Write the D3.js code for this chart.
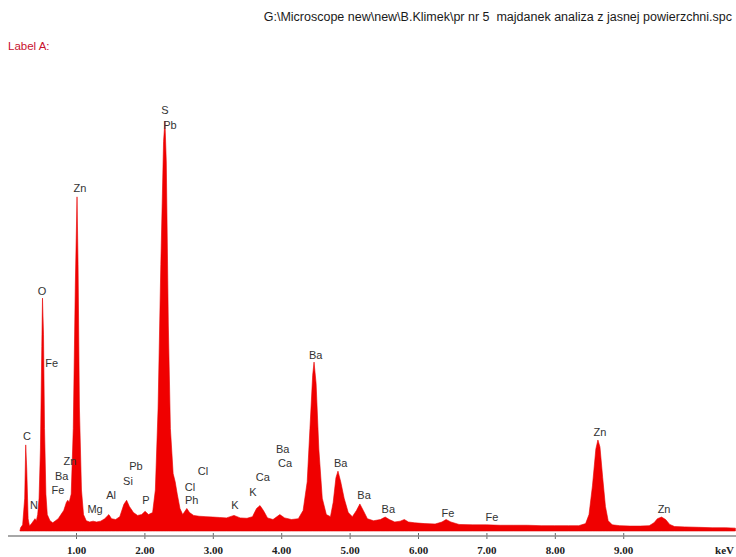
<!DOCTYPE html>
<html>
<head>
<meta charset="utf-8">
<script src="https://cdnjs.cloudflare.com/ajax/libs/d3/7.8.5/d3.min.js"></script>
<style>
  body { margin: 0; background: #fff; }
  svg { display: block; }
</style>
</head>
<body>
<div id="chart-area"></div>
<script>
// SPECTRUM (energy in keV, counts)
var energy = [0.18, 0.19, 0.22, 0.25, 0.265, 0.28, 0.30, 0.32, 0.35, 0.38, 0.40, 0.42, 0.44, 0.46, 0.48, 0.50,
	0.51, 0.525, 0.54, 0.56, 0.58, 0.62, 0.66, 0.70, 0.74, 0.78, 0.82, 0.86, 0.88, 0.90, 0.93, 0.96, 0.99,
	1.015, 1.03, 1.05, 1.08, 1.11, 1.15, 1.20, 1.25, 1.30, 1.36, 1.42, 1.48, 1.52, 1.58, 1.64, 1.70, 1.74,
	1.78, 1.84, 1.90, 1.96, 2.01, 2.06, 2.12, 2.16, 2.20, 2.24, 2.28, 2.30, 2.32, 2.35, 2.38, 2.42, 2.45,
	2.48, 2.52, 2.56, 2.62, 2.66, 2.72, 2.80, 2.90, 3.00, 3.10, 3.20, 3.31, 3.40, 3.50, 3.58, 3.64, 3.69,
	3.74, 3.80, 3.88, 3.98, 4.05, 4.15, 4.25, 4.32, 4.38, 4.42, 4.46, 4.48, 4.51, 4.55, 4.60, 4.66, 4.72,
	4.76, 4.80, 4.83, 4.87, 4.92, 4.98, 5.04, 5.10, 5.15, 5.20, 5.26, 5.35, 5.45, 5.52, 5.58, 5.66, 5.74,
	5.80, 5.86, 5.95, 6.10, 6.25, 6.35, 6.41, 6.48, 6.60, 6.80, 7.00, 7.20, 7.40, 7.60, 7.80, 8.00, 8.20,
	8.35, 8.45, 8.50, 8.55, 8.60, 8.63, 8.66, 8.70, 8.74, 8.78, 8.84, 8.95, 9.10, 9.25, 9.38, 9.45, 9.50,
	9.56, 9.62, 9.68, 9.75, 9.90, 10.10, 10.30, 10.50, 10.64];

var counts = [0, 8, 15, 80, 210, 150, 30, 12, 18, 25, 30, 25, 40, 80, 200, 450,
	568, 480, 250, 90, 40, 25, 20, 25, 30, 40, 50, 70, 75, 70, 90, 250, 600,
	815, 650, 300, 100, 40, 25, 22, 24, 22, 24, 30, 40, 30, 28, 35, 65, 75,
	60, 45, 38, 40, 48, 40, 45, 100, 300, 650, 950, 1000, 900, 500, 250, 140, 120,
	90, 55, 40, 55, 45, 38, 36, 35, 34, 33, 32, 38, 32, 31, 35, 55, 62,
	50, 32, 28, 40, 32, 28, 30, 50, 120, 250, 380, 412, 360, 200, 80, 40, 35,
	70, 130, 146, 120, 80, 45, 35, 50, 66, 50, 30, 25, 28, 34, 28, 22, 24,
	28, 22, 20, 18, 17, 22, 28, 22, 16, 15, 15, 14, 14, 14, 13, 13, 13,
	13, 18, 40, 110, 200, 222, 205, 130, 60, 25, 15, 13, 12, 12, 13, 20, 30,
	34, 28, 16, 11, 10, 9, 8, 8, 7];

// PEAK LABELS
var peakNames = ["S", "Pb", "Zn", "O", "Fe", "C", "N", "Zn", "Ba", "Fe", "Mg", "Al", "Si", "Pb", "P",
	"Cl", "Cl", "Ph", "K", "K", "Ca", "Ba", "Ca", "Ba", "Ba", "Ba", "Ba", "Fe", "Fe", "Zn", "Zn"];
var peakKeV = [2.301, 2.374, 1.058, 0.503, 0.645, 0.284, 0.386, 0.912, 0.791, 0.737, 1.278, 1.512, 1.760, 1.877, 2.023,
	2.857, 2.667, 2.691, 3.325, 3.588, 3.730, 4.022, 4.056, 4.504, 4.870, 5.211, 5.566, 6.439, 7.082, 8.661, 9.597];
var peakLevel = [1026, 991, 837, 586, 410, 232, 63, 170, 135, 100, 54, 88, 122, 159, 76,
	145, 107, 76, 63, 95, 132, 200, 166, 429, 166, 88, 54, 44, 34, 242, 54];

var tickValues = [1, 2, 3, 4, 5, 6, 7, 8, 9];

var fileTitle = "G:\\Microscope new\\new\\B.Klimek\\pr nr 5  majdanek analiza z jasnej powierzchni.spc";

var width = 736, height = 557;

var svg = d3.select("#chart-area")
	.append("svg")
	.attr("width", width)
	.attr("height", height);

// SCALES
var x = d3.scaleLinear()
	.domain([0, 10.64])
	.range([7.6, 735.4]);

var y = d3.scaleLinear()
	.domain([0, 1000])
	.range([531, 121]);

// HEADER
svg.append("text")
	.attr("x", 732)
	.attr("y", 21)
	.attr("text-anchor", "end")
	.attr("font-family", "Liberation Sans, Arial, sans-serif")
	.attr("font-size", "12.5px")
	.attr("fill", "#1a1a1a")
	.attr("xml:space", "preserve")
	.style("white-space", "pre")
	.text(fileTitle);

svg.append("text")
	.attr("x", 8)
	.attr("y", 50)
	.attr("font-family", "Liberation Sans, Arial, sans-serif")
	.attr("font-size", "11.5px")
	.attr("fill", "#c8102e")
	.text("Label A:");

// SPECTRUM
var spectrum = energy.map(function (e, i) { return { e: e, c: counts[i] }; });

var area = d3.area()
	.x(function (d) { return x(d.e); })
	.y0(y(0))
	.y1(function (d) { return y(d.c); });

svg.append("path")
	.datum(spectrum)
	.attr("fill", "#f00000")
	.attr("stroke", "#e80000")
	.attr("stroke-width", 0.6)
	.attr("d", area);

// X AXIS
var xAxisCall = d3.axisBottom(x)
	.tickValues(tickValues)
	.tickSize(3)
	.tickFormat(d3.format(".2f"));

var xAxis = svg.append("g")
	.attr("class", "x axis")
	.attr("transform", "translate(0,536)")
	.call(xAxisCall);

xAxis.select(".domain").remove();
xAxis.append("line")
	.attr("x1", 8)
	.attr("x2", 736)
	.attr("stroke", "#8a8a8a")
	.attr("stroke-width", 1.5);
xAxis.selectAll(".tick line")
	.attr("y1", -3)
	.attr("y2", 3)
	.attr("stroke", "#666");
xAxis.selectAll(".tick text")
	.attr("y", 18)
	.attr("dy", 0)
	.attr("font-family", "Liberation Serif, Times New Roman, serif")
	.attr("font-weight", "bold")
	.attr("font-size", "11px")
	.attr("fill", "#222");

svg.append("text")
	.attr("x", 734)
	.attr("y", 554)
	.attr("text-anchor", "end")
	.attr("font-family", "Liberation Serif, Times New Roman, serif")
	.attr("font-weight", "bold")
	.attr("font-size", "11px")
	.attr("fill", "#222")
	.text("keV");

// PEAK LABELS
svg.selectAll("text.peak")
	.data(peakNames)
	.enter()
	.append("text")
	.attr("class", "peak")
	.attr("x", function (d, i) { return x(peakKeV[i]); })
	.attr("y", function (d, i) { return y(peakLevel[i]); })
	.attr("dy", "0.35em")
	.attr("text-anchor", "middle")
	.attr("font-family", "Liberation Sans, Arial, sans-serif")
	.attr("font-size", "11px")
	.attr("fill", "#333")
	.text(function (d) { return d; });
</script>
</body>
</html>
